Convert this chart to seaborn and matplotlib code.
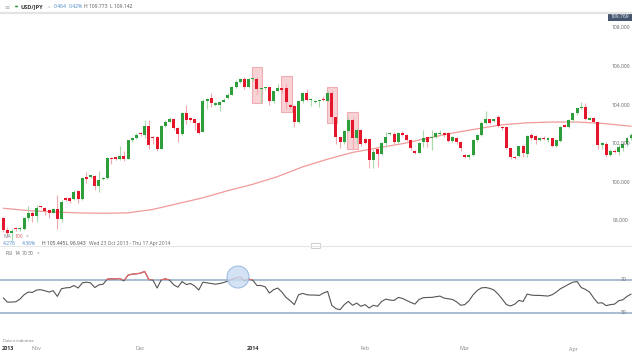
import numpy as np
import pandas as pd
import matplotlib
matplotlib.use("Agg")
import matplotlib.pyplot as plt
import matplotlib.transforms as mtransforms
from matplotlib.patches import Rectangle, Ellipse, FancyBboxPatch, Circle
import seaborn as sns

# ---------------- data ----------------
opens = [98.14, 97.53, 97.40, 97.65, 97.58, 97.60, 98.17, 98.43, 98.28, 98.72,
         98.69, 98.57, 98.43, 98.60, 98.10, 99.20, 99.18, 99.12, 99.57, 99.12,
         100.26, 100.30, 100.33, 99.80, 100.15, 100.20, 101.28, 101.28, 101.23, 101.36,
         101.21, 102.19, 102.28, 102.55, 102.46, 102.90, 102.36, 102.36, 101.71, 102.90,
         103.14, 103.26, 102.80, 102.50, 103.60, 103.31, 103.26, 103.05, 102.62, 104.23,
         104.35, 104.00, 104.00, 104.17, 104.35, 104.52, 104.92, 105.20, 105.33, 104.92,
         105.33, 105.35, 104.83, 104.88, 104.92, 104.20, 104.73, 104.86, 104.86, 104.00,
         103.96, 103.10, 104.20, 104.60, 104.24, 104.17, 104.20, 104.28, 104.22, 104.64,
         103.36, 102.33, 102.07, 102.66, 103.23, 102.28, 102.71, 102.26, 102.22, 101.16,
         101.71, 101.47, 102.02, 102.50, 102.50, 102.10, 102.54, 102.45, 102.20, 101.62,
         101.53, 102.10, 102.33, 102.28, 102.33, 102.50, 102.54, 102.54, 102.16, 102.28,
         102.10, 101.41, 101.33, 101.41, 102.19, 102.45, 103.05, 103.26, 103.15, 103.40,
         102.88, 102.85, 101.76, 101.33, 101.36, 101.88, 101.45, 102.45, 102.40, 102.19,
         102.31, 102.19, 102.28, 101.90, 102.14, 102.97, 102.88, 103.23, 103.57, 103.83,
         103.91, 103.25, 103.35, 103.10, 101.93, 102.00, 101.42, 101.63, 101.55, 101.80,
         102.00, 102.30]
highs = [98.20, 97.70, 97.60, 97.70, 97.70, 98.20, 98.80, 98.50, 98.85, 98.80,
         98.72, 98.60, 98.65, 99.35, 99.10, 99.25, 99.25, 99.60, 99.60, 100.25,
         100.55, 100.40, 100.40, 100.60, 100.30, 101.32, 101.30, 101.30, 101.88, 101.60,
         102.20, 102.35, 102.55, 102.60, 103.20, 103.20, 102.40, 102.40, 102.95, 103.20,
         103.40, 103.35, 102.85, 103.65, 104.00, 103.40, 103.30, 103.10, 104.30, 104.35,
         104.60, 104.15, 104.20, 104.35, 104.60, 105.00, 105.30, 105.40, 105.44, 105.40,
         105.40, 105.44, 104.95, 104.95, 104.95, 104.75, 105.10, 104.90, 105.10, 104.05,
         104.00, 104.25, 104.65, 104.85, 104.35, 104.25, 104.30, 104.45, 104.75, 104.80,
         103.40, 102.35, 102.70, 103.40, 103.40, 102.80, 102.75, 102.30, 102.25, 101.70,
         101.75, 102.10, 102.60, 102.60, 102.60, 102.60, 102.65, 102.50, 102.25, 101.65,
         102.10, 102.70, 102.33, 102.70, 102.60, 102.70, 102.60, 102.60, 102.40, 102.35,
         102.15, 101.45, 101.45, 102.25, 102.50, 103.15, 103.70, 103.30, 103.30, 103.50,
         102.90, 102.90, 101.80, 101.35, 101.90, 101.95, 102.45, 102.55, 102.45, 102.35,
         102.40, 102.35, 102.30, 102.25, 102.90, 103.00, 103.28, 103.60, 103.85, 104.17,
         104.10, 103.40, 103.40, 103.15, 102.10, 102.10, 101.70, 101.70, 102.00, 102.10,
         102.35, 102.55]
lows = [97.45, 97.20, 96.95, 97.50, 97.50, 97.55, 98.00, 97.95, 97.95, 98.65,
        98.30, 98.15, 98.40, 97.60, 97.95, 99.05, 98.95, 99.10, 98.95, 99.10,
        99.95, 100.20, 99.60, 99.50, 100.10, 100.15, 100.95, 101.15, 101.16, 101.10,
        101.20, 102.10, 102.25, 102.40, 102.30, 101.75, 102.00, 101.60, 101.70, 102.85,
        103.10, 102.70, 102.10, 102.45, 103.00, 103.10, 102.70, 102.50, 102.60, 103.80,
        103.90, 103.95, 103.70, 104.15, 104.30, 104.50, 104.90, 105.15, 104.85, 104.90,
        105.25, 104.55, 104.10, 104.80, 104.00, 104.10, 104.70, 104.60, 103.80, 103.80,
        102.85, 103.05, 104.10, 104.20, 103.95, 104.10, 103.90, 104.20, 104.20, 103.10,
        102.00, 101.80, 102.00, 102.60, 101.76, 102.00, 101.90, 102.00, 100.75, 100.76,
        100.80, 101.40, 101.85, 102.45, 102.00, 102.05, 102.40, 102.15, 101.68, 101.45,
        101.50, 101.85, 101.85, 101.67, 102.30, 102.45, 102.35, 102.10, 102.10, 102.00,
        101.60, 101.25, 101.20, 101.35, 102.10, 102.40, 103.00, 103.00, 103.10, 102.85,
        102.70, 101.70, 101.20, 101.20, 101.30, 101.30, 101.30, 102.20, 102.00, 102.15,
        102.20, 102.10, 101.85, 101.85, 102.10, 102.85, 102.80, 103.10, 103.50, 103.80,
        103.20, 103.20, 103.05, 101.70, 101.75, 101.30, 101.35, 101.50, 101.40, 101.60,
        101.90, 102.20]
closes = [97.53, 97.40, 97.45, 97.57, 97.62, 98.14, 98.43, 98.28, 98.67, 98.70,
          98.54, 98.40, 98.60, 98.09, 99.00, 99.10, 99.05, 99.52, 99.12, 100.20,
          100.16, 100.35, 99.80, 100.14, 100.22, 101.28, 101.21, 101.23, 101.36, 101.21,
          102.19, 102.31, 102.45, 102.50, 102.90, 101.93, 102.29, 101.71, 102.90, 103.14,
          103.26, 102.80, 102.50, 103.60, 103.23, 103.23, 103.05, 102.57, 104.23, 104.30,
          104.09, 104.09, 104.17, 104.26, 104.52, 104.92, 105.17, 105.33, 104.92, 105.33,
          105.36, 104.83, 104.90, 104.92, 104.20, 104.73, 104.86, 104.80, 104.17, 103.90,
          103.10, 104.20, 104.60, 104.26, 104.28, 104.20, 104.24, 104.24, 104.64, 103.40,
          102.36, 102.07, 102.66, 103.23, 102.28, 102.71, 101.98, 102.02, 101.16, 101.59,
          101.47, 102.02, 102.33, 102.57, 102.10, 102.54, 102.47, 102.20, 101.76, 101.53,
          102.05, 102.30, 102.10, 102.33, 102.54, 102.55, 102.45, 102.16, 102.33, 102.10,
          101.79, 101.29, 101.41, 102.19, 102.45, 103.05, 103.26, 103.09, 103.26, 102.90,
          102.80, 101.76, 101.33, 101.24, 101.88, 101.50, 102.40, 102.30, 102.19, 102.31,
          102.24, 102.31, 101.90, 102.19, 102.85, 102.88, 103.23, 103.57, 103.83, 103.91,
          103.28, 103.35, 103.10, 101.93, 102.02, 101.42, 101.62, 101.55, 101.84, 102.00,
          102.31, 102.45]

# MA(100) read at weekly points (candle index, value)
ma_index = [0, 6, 12, 18, 24, 30, 36, 42, 48, 54, 60, 66, 72, 78, 84, 90, 96,
            102, 108, 114, 120, 126, 132, 138, 144, 151]
ma_values = [98.66, 98.54, 98.47, 98.42, 98.40, 98.42, 98.60, 98.90, 99.20, 99.57,
             99.90, 100.30, 100.80, 101.20, 101.55, 101.78, 102.00, 102.28, 102.55,
             102.77, 102.98, 103.08, 103.12, 103.12, 103.05, 102.90]

rsi = [59.0, 56.5, 56.5, 56.7, 58.3, 60.9, 62.5, 62.3, 63.7, 63.9,
       63.3, 62.5, 63.3, 59.9, 64.5, 65.0, 65.2, 66.4, 64.9, 68.0,
       68.4, 68.0, 65.2, 66.8, 67.2, 70.2, 70.4, 70.4, 70.6, 69.2,
       72.6, 73.2, 73.4, 73.8, 74.8, 70.0, 69.6, 64.9, 69.8, 70.4,
       69.6, 66.8, 65.4, 68.8, 67.0, 67.6, 66.2, 63.7, 68.4, 68.0,
       67.6, 67.2, 67.6, 68.2, 69.0, 70.2, 71.0, 71.4, 69.2, 70.2,
       69.6, 66.4, 66.4, 65.6, 61.9, 63.9, 64.9, 62.5, 59.3, 57.3,
       55.0, 60.9, 61.7, 60.9, 60.7, 60.7, 60.5, 61.9, 62.9, 54.6,
       52.6, 52.0, 55.0, 56.9, 54.6, 55.9, 54.0, 55.0, 53.0, 54.6,
       54.0, 56.9, 58.3, 57.7, 57.5, 59.3, 58.7, 57.5, 56.3, 55.3,
       58.1, 59.1, 59.3, 59.3, 59.7, 60.1, 58.9, 58.5, 58.1, 56.7,
       54.6, 55.0, 57.3, 60.9, 63.5, 65.0, 65.2, 64.7, 63.7, 61.3,
       58.3, 55.0, 54.2, 55.3, 57.5, 56.9, 61.3, 60.7, 60.5, 60.5,
       60.3, 60.1, 60.9, 62.5, 64.5, 65.8, 67.2, 68.4, 68.8, 65.2,
       64.1, 62.5, 58.9, 55.9, 56.1, 54.4, 55.0, 55.3, 57.3, 57.9,
       59.9, 61.3]

# highlighted boxes: (index start, index end, price low, price high)
box_i0 = [59.8, 66.8, 77.8, 82.7]
box_i1 = [62.3, 69.4, 80.3, 85.2]
box_lo = [104.09, 103.62, 103.05, 101.72]
box_hi = [105.95, 105.50, 104.92, 103.62]

price_ticks = [108, 106, 104, 102, 100, 98]
rsi_levels = [70, 50]
month_idx = [8, 33, 60, 87, 111, 137]
month_lbl = ["Nov", "Dec", "2014", "Feb", "Mar", "Apr"]

# ---------------- figure ----------------
W, H = 632, 353
sns.set_theme(style="white")
plt.rcParams["font.family"] = ["Open Sans", "DejaVu Sans"]
fig = plt.figure(figsize=(W / 100, H / 100), dpi=100)
fig.patch.set_facecolor("white")

def fy(y):
    return 1 - y / H

x_lo = -3.3 / 4.158
x_hi = (W - 3.3) / 4.158

ax = fig.add_axes([0, fy(245), 1, (245 - 13) / H])
ax.set_xlim(x_lo, x_hi)
ax.set_ylim(108 - (245 - 27.7) / 19.33, 108 + (27.7 - 13) / 19.33)
axr = fig.add_axes([0, fy(340), 1, (340 - 250) / H])
axr.set_xlim(x_lo, x_hi)
axr.set_ylim(50 - (340 - 313) / 1.675, 70 + (279.5 - 250) / 1.675)
for a in (ax, axr):
    a.set_facecolor("none")
    for s in a.spines.values():
        s.set_visible(False)
    a.set_xticks([])
    a.set_yticks([])
    a.set_xlabel("")
    a.set_ylabel("")

df = pd.DataFrame({"o": opens, "h": highs, "l": lows, "c": closes})
df["i"] = np.arange(len(df))
up = df["c"] >= df["o"]
green, red = "#2e9d3c", "#e4162b"
wick_g, wick_r = "#a7d9ad", "#f3a9b0"

# MA line
sns.lineplot(x=ma_index, y=ma_values, ax=ax, color="#f29a9a", lw=0.9, zorder=2)

# highlight boxes
for a0, a1, lo, hi in zip(box_i0, box_i1, box_lo, box_hi):
    ax.add_patch(Rectangle((a0, lo), a1 - a0, hi - lo, facecolor="#f6c4c7",
                           edgecolor="#e99aa0", lw=0.8, alpha=0.75, zorder=1))

# candles
ax.vlines(df["i"], df["l"], df["h"],
          colors=np.where(up, wick_g, wick_r), lw=0.8, zorder=3)
body_lo = np.minimum(df["o"], df["c"])
body_h = np.maximum(np.abs(df["c"] - df["o"]), 0.06)
ax.bar(df["i"], body_h, bottom=body_lo, width=0.72,
       color=np.where(up, green, red), linewidth=0, zorder=4)

# price labels
tr = mtransforms.blended_transform_factory(ax.transAxes, ax.transData)
for p in price_ticks:
    ax.text(621 / W, p, f"{p:.3f}", transform=tr, ha="center", va="center",
            fontsize=3.6, color="#666666", zorder=6)

# RSI
rs_idx = np.arange(len(rsi))
sns.lineplot(x=rs_idx, y=rsi, ax=axr, color="#555555", lw=0.8, zorder=3)
red_line, = axr.plot(rs_idx, rsi, color="#ec6a6a", lw=0.9, zorder=4)
red_line.set_clip_path(Rectangle((x_lo, 70), x_hi - x_lo, 40, transform=axr.transData))
for lv in rsi_levels:
    axr.axhline(lv, color="#a3b7cf", lw=1.3, zorder=2)
    axr.text(624 / W, lv, str(lv), transform=mtransforms.blended_transform_factory(
        axr.transAxes, axr.transData), ha="center", va="center", fontsize=3.6,
        color="#666666", zorder=6)
axr.add_patch(Ellipse(((238 - 3.3) / 4.158, 70 + (279.5 - 277) / 1.675),
                      22 / 4.158, 22 / 1.675, facecolor="#c9ddf3",
                      edgecolor="#8fb2da", lw=0.8, alpha=0.8, zorder=5))

# frame lines
fig.add_artist(plt.Line2D([0, 1], [fy(13), fy(13)], color="#e3e3e3", lw=1.6))
fig.add_artist(plt.Line2D([0, 1], [fy(246), fy(246)], color="#e6e6e6", lw=0.8))
fig.add_artist(FancyBboxPatch((312 / W, fy(248)), 8 / W, 4 / H,
                              boxstyle="round,pad=0.001", facecolor="white",
                              edgecolor="#bbbbbb", lw=0.5,
                              transform=fig.transFigure))

# header
fs = 3.6
fig.text(4 / W, fy(6.5), "≡", fontsize=4.5, color="#aaaaaa", va="center")
fig.add_artist(Circle((16.5 / W, fy(6.5)), 1.6 / W, facecolor="#2e9d3c",
                      edgecolor="none", transform=fig.transFigure))
fig.text(21 / W, fy(6.5), "USD/JPY", fontsize=4.1, color="#333333",
         va="center", fontweight="bold")
fig.text(48 / W, fy(6.5), "v", fontsize=3.2, color="#aaaaaa", va="center")
fig.text(54 / W, fy(6.5), "0.464", fontsize=fs, color="#4a86c5", va="center")
fig.text(69 / W, fy(6.5), "0.42%", fontsize=fs, color="#4a86c5", va="center")
fig.text(84 / W, fy(6.5), "H 109.773  L 109.142", fontsize=fs, color="#555555",
         va="center")
fig.add_artist(Rectangle((608 / W, fy(21)), 24 / W, 8 / H, facecolor="#45556f",
                         edgecolor="none", transform=fig.transFigure))
fig.text(620 / W, fy(17), "109.769", fontsize=3.6, color="white", ha="center",
         va="center")

# legend / info lines
fig.text(4 / W, fy(236), "MA", fontsize=fs, color="#888888", va="center")
fig.text(15 / W, fy(236), "100", fontsize=fs, color="#e06060", va="center")
fig.text(26 / W, fy(236), "×", fontsize=fs, color="#999999", va="center")
fig.text(3 / W, fy(243.3), "4.276", fontsize=fs, color="#4a86c5", va="center")
fig.text(22 / W, fy(243.3), "4.36%", fontsize=fs, color="#4a86c5", va="center")
fig.text(42 / W, fy(243.3), "H 105.445", fontsize=fs, color="#444444", va="center")
fig.text(66 / W, fy(243.3), "L 96.943", fontsize=fs, color="#444444", va="center")
fig.text(89 / W, fy(243.3), "Wed 23 Oct 2013 - Thu 17 Apr 2014", fontsize=fs,
         color="#666666", va="center")
fig.text(6 / W, fy(253.3), "RSI", fontsize=fs, color="#666666", va="center")
fig.text(15 / W, fy(253.3), "14", fontsize=fs, color="#666666", va="center")
fig.text(21.5 / W, fy(253.3), "70", fontsize=fs, color="#666666", va="center")
fig.text(28 / W, fy(253.3), "30", fontsize=fs, color="#666666", va="center")
fig.text(37 / W, fy(253.3), "×", fontsize=fs, color="#999999", va="center")

# footer / date axis
fig.text(3 / W, fy(341), "Data is indicative", fontsize=2.8, color="#777777",
         va="center")
fig.text(2 / W, fy(349), "2013", fontsize=3.9, color="#333333", va="center",
         fontweight="bold")
trd = mtransforms.blended_transform_factory(axr.transData, fig.transFigure)
for mi, ml in zip(month_idx, month_lbl):
    bold = ml.isdigit()
    axr.text(mi, fy(349), ml, transform=trd, ha="center", va="center",
             fontsize=3.9, color="#333333" if bold else "#888888",
             fontweight="bold" if bold else "normal", clip_on=False)

fig.savefig("out.png", dpi=100, facecolor="white")
